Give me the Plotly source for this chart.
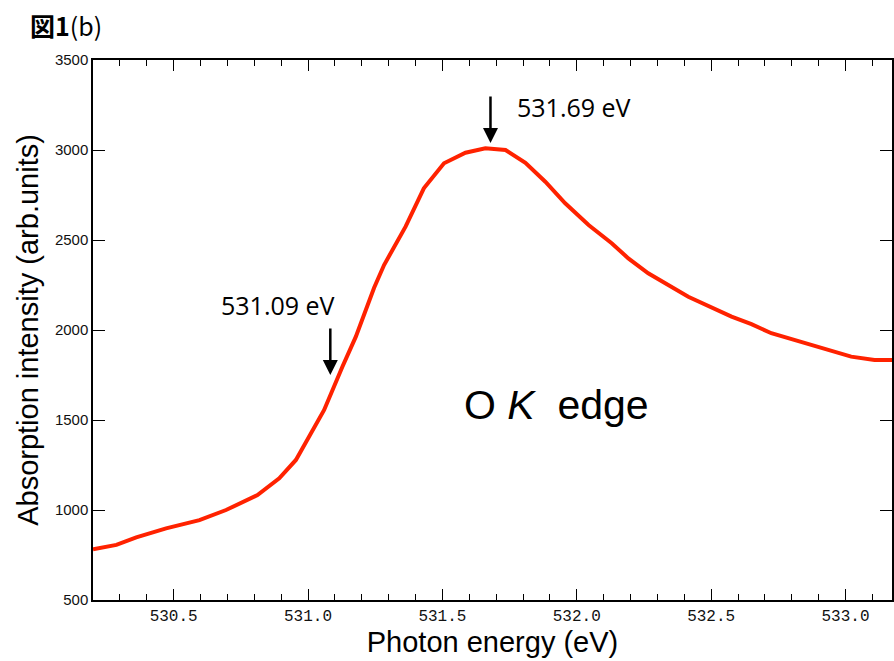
import plotly.graph_objects as go

# Data
energy = [530.20, 530.287, 530.361, 530.472, 530.596, 530.695, 530.812, 530.893,
          530.955, 531.06, 531.128, 531.178, 531.246, 531.283, 531.363, 531.431,
          531.506, 531.586, 531.66, 531.735, 531.809, 531.883, 531.957, 532.044,
          532.13, 532.192, 532.266, 532.415, 532.576, 532.65, 532.724, 532.848,
          533.021, 533.108, 533.18]
intensity = [782, 806, 848, 898, 944, 1000, 1083, 1176,
             1278, 1556, 1796, 1963, 2235, 2361, 2574, 2787,
             2926, 2985, 3009, 3000, 2929, 2824, 2704, 2583,
             2482, 2398, 2315, 2185, 2074, 2033, 1982, 1926,
             1852, 1833, 1833]

x_tickvals = [530.5, 531.0, 531.5, 532.0, 532.5, 533.0]
x_ticktext = ["530.5", "531.0", "531.5", "532.0", "532.5", "533.0"]
y_tickvals = [500, 1000, 1500, 2000, 2500, 3000, 3500]

peak_labels = ["531.69 eV", "531.09 eV"]
peak_x = [531.679, 531.083]
peak_y = [3039, 1750]

fig = go.Figure()
fig.add_trace(go.Scatter(x=energy, y=intensity, mode="lines",
                         line=dict(color="#FF2200", width=4), showlegend=False))

fig.update_layout(
    width=894, height=661,
    margin=dict(l=93, r=0, t=60, b=61),
    paper_bgcolor="white", plot_bgcolor="white",
    font=dict(family="Liberation Sans", color="black"),
)

fig.update_xaxes(
    range=[530.2, 533.173],
    tickvals=x_tickvals, ticktext=x_ticktext,
    tickfont=dict(family="Liberation Mono", size=16, color="#111"),
    ticks="inside", ticklen=11, tickwidth=1.3, tickcolor="black",
    minor=dict(ticks="inside", dtick=0.1, ticklen=6, tickwidth=1.3, tickcolor="black", showgrid=False),
    showline=True, linecolor="black", linewidth=1.5, mirror="ticks",
    showgrid=False, zeroline=False,
    title=dict(text="Photon energy (eV)", font=dict(size=29, family="Liberation Sans"), standoff=4),
)
fig.update_yaxes(
    range=[500, 3500],
    tickvals=y_tickvals,
    tickfont=dict(family="Liberation Sans", size=15, color="#111"),
    ticks="inside", ticklen=12, tickwidth=1.3, tickcolor="black",
    showline=True, linecolor="black", linewidth=1.5, mirror="ticks",
    showgrid=False, zeroline=False,
    title=dict(text="Absorption intensity (arb.units)", font=dict(size=29, family="Liberation Sans"), standoff=8),
)

# arrows
for px, py in zip(peak_x, peak_y):
    fig.add_annotation(x=px, y=py, xref="x", yref="y", text="", showarrow=True,
                       ax=0, ay=-48, arrowhead=2, arrowsize=1.2, arrowwidth=2.5,
                       arrowcolor="black")

# labels
fig.add_annotation(x=531.991, y=3241, xref="x", yref="y", text=peak_labels[0],
                   showarrow=False, font=dict(family="Open Sans", size=25, color="black"))
fig.add_annotation(x=530.888, y=2139, xref="x", yref="y", text=peak_labels[1],
                   showarrow=False, font=dict(family="Open Sans", size=25, color="black"))
fig.add_annotation(x=531.926, y=1583, xref="x", yref="y",
                   text="O <i>K</i>\u00a0\u00a0edge",
                   showarrow=False, font=dict(family="Liberation Sans", size=41, color="black"))

# figure label (positioned in pixels)
fig.add_annotation(x=(28 - 93) / 801, y=1 + (60 - 25) / 540, xref="paper", yref="paper",
                   text="<b>図1</b>(b)",
                   showarrow=False, xanchor="left", yanchor="middle",
                   font=dict(family="Noto Sans CJK JP", size=25, color="black"))

fig.write_html("out.html")
